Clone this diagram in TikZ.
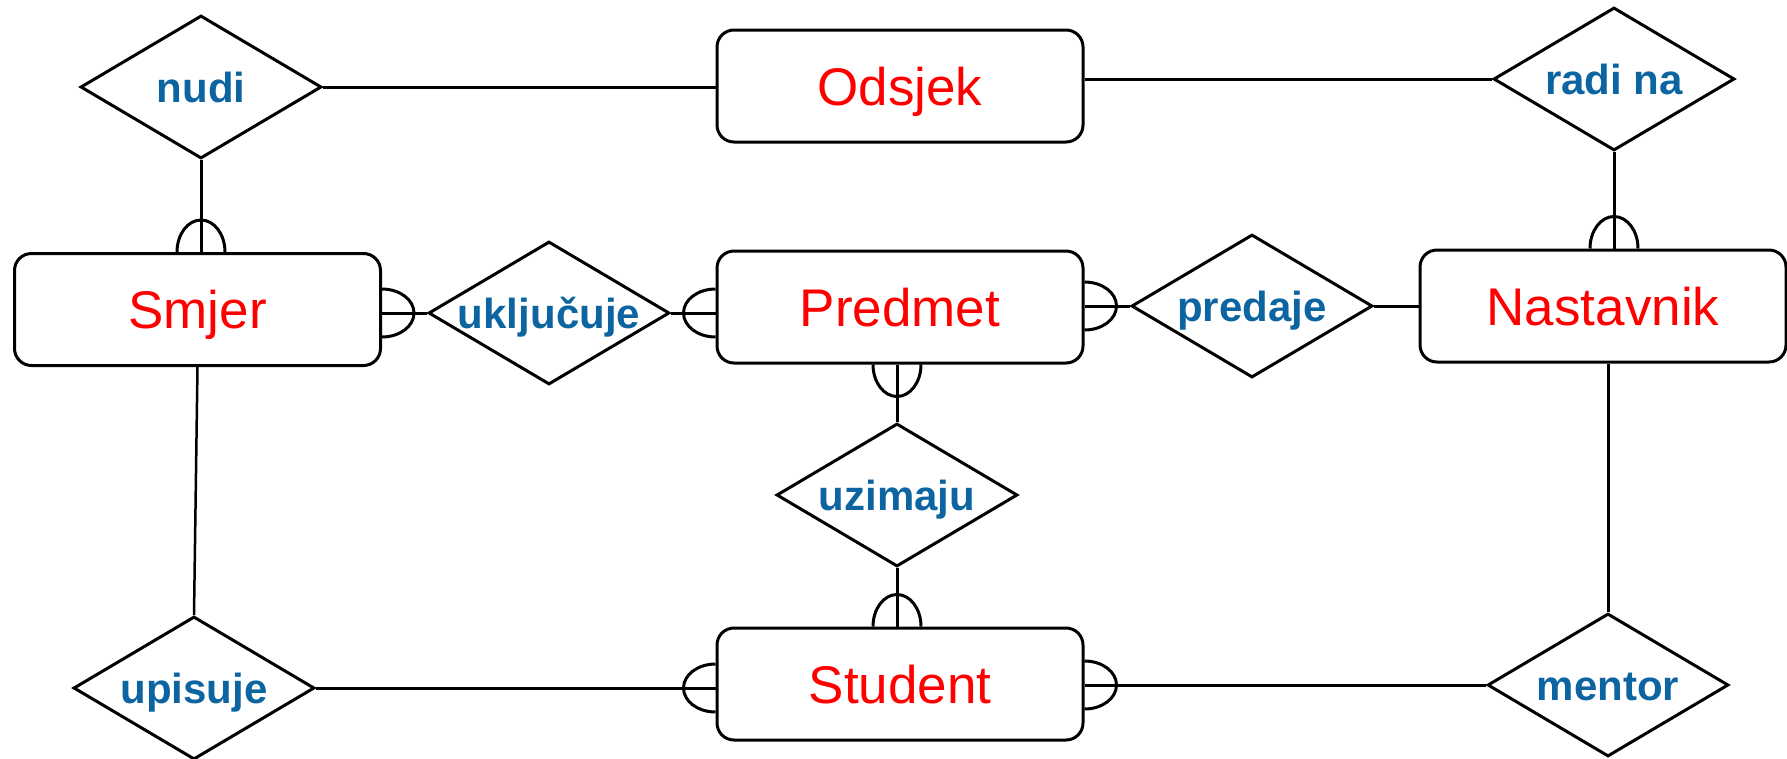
\documentclass[tikz,border=0pt]{standalone}
\usepackage{fontspec}
\setmainfont{Liberation Sans}
\usetikzlibrary{shapes.geometric}
\definecolor{relblue}{RGB}{12,100,160}
\definecolor{entred}{RGB}{255,0,0}
\newcommand\erArcUp[1]{\draw[conn] (#1) ++(-24,0) arc[start angle=180,end angle=360,x radius=24,y radius=32];}
\newcommand\erArcDown[1]{\draw[conn] (#1) ++(-24,0) arc[start angle=180,end angle=0,x radius=24,y radius=32];}
\newcommand\erArcRight[1]{\draw[conn] (#1) ++(0,-24) arc[start angle=-90,end angle=90,x radius=32,y radius=24];}
\newcommand\erArcLeft[1]{\draw[conn] (#1) ++(0,24) arc[start angle=90,end angle=270,x radius=32,y radius=24];}
\begin{document}
\begin{tikzpicture}[x=1pt,y=-1pt,
  entity/.style={draw,line width=3pt,rounded corners=17pt,minimum width=366pt,minimum height=112pt,
    inner sep=0pt,text height=38pt,text depth=0pt,text=entred,font=\fontsize{53}{60}\selectfont},
  reltext/.style={inner sep=0pt,text height=30pt,text depth=0pt,text=relblue,
    font=\fontsize{42}{48}\selectfont\bfseries},
  rel/.style={draw,line width=3pt,diamond,minimum width=241pt,minimum height=143pt,inner sep=0pt,
    label={[reltext]center:#1}},
  conn/.style={line width=3pt},
  thinconn/.style={line width=2.5pt}]
\useasboundingbox (0,0) rectangle (1787,758);
% entities
\node[entity] (odsjek) at (900,86) {Odsjek};
\node[entity] (smjer) at (197.5,309.5) {Smjer};
\node[entity] (predmet) at (900,307) {Predmet};
\node[entity] (nastavnik) at (1603,306) {Nastavnik};
\node[entity] (student) at (900,684) {Student};
% relationships
\node[rel={nudi}] (nudi) at (201,87) {};
\node[rel={radi na}] (radi) at (1614,79) {};
\node[rel={uključuje}] (ukljucuje) at (549,313) {};
\node[rel={predaje}] (predaje) at (1252,306) {};
\node[rel={uzimaju}] (uzimaju) at (897,495) {};
\node[rel={upisuje}] (upisuje) at (194,688) {};
\node[rel={mentor}] (mentor) at (1608,685) {};
% connectors
\draw[conn] (nudi.east) -- (nudi.east -| odsjek.west);
\draw[conn] (radi.west -| odsjek.east) -- (radi.west);
\draw[conn] (nudi.south) -- (nudi.south |- smjer.north);
\erArcUp{nudi.south |- smjer.north}
\draw[conn] (radi.south) -- (radi.south |- nastavnik.north);
\erArcUp{radi.south |- nastavnik.north}
\draw[conn] (ukljucuje.west -| smjer.east) -- (ukljucuje.west);
\erArcRight{ukljucuje.west -| smjer.east}
\draw[conn] (ukljucuje.east) -- (ukljucuje.east -| predmet.west);
\erArcLeft{ukljucuje.east -| predmet.west}
\draw[conn] (predaje.west -| predmet.east) -- (predaje.west);
\erArcRight{predaje.west -| predmet.east}
\draw[conn] (predaje.east) -- (predaje.east -| nastavnik.west);
\draw[conn] (uzimaju.north |- predmet.south) -- (uzimaju.north);
\erArcDown{uzimaju.north |- predmet.south}
\draw[conn] (uzimaju.south) -- (uzimaju.south |- student.north);
\erArcUp{uzimaju.south |- student.north}
\draw[thinconn] (smjer.south) -- (upisuje.north);
\draw[conn] (upisuje.east) -- (upisuje.east -| student.west);
\erArcLeft{upisuje.east -| student.west}
\draw[conn] (mentor.west -| student.east) -- (mentor.west);
\erArcRight{mentor.west -| student.east}
\draw[conn] (mentor.north |- nastavnik.south) -- (mentor.north);
\end{tikzpicture}
\end{document}
